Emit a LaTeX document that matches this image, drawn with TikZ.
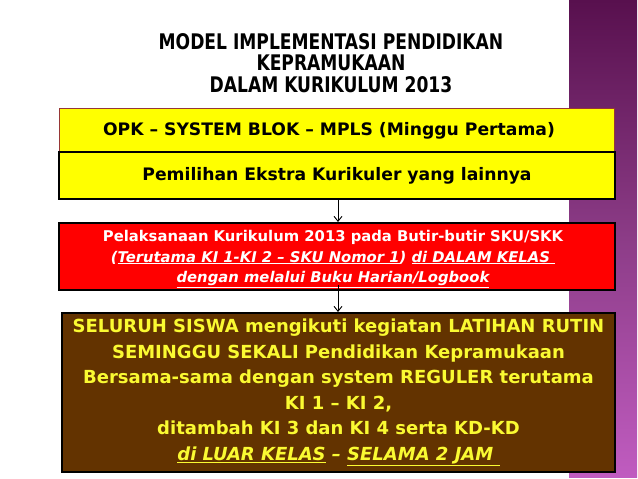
\documentclass[tikz,border=0pt]{standalone}
\usepackage{fontspec}
\setmainfont{DejaVu Sans}
\newfontfamily\titlefont[FakeStretch=0.885]{DejaVu Sans Condensed}
\usetikzlibrary{arrows.meta}
\definecolor{boxyellow}{RGB}{255,255,0}
\definecolor{boxred}{RGB}{255,0,0}
\definecolor{boxbrown}{RGB}{99,51,0}
\definecolor{txtyellow}{RGB}{250,250,50}
\definecolor{redline}{RGB}{150,55,55}
\definecolor{purpletop}{RGB}{88,16,78}
\definecolor{purplemid}{RGB}{140,60,135}
\definecolor{purplebot}{RGB}{192,92,192}
\tikzset{
  panel/.style={rectangle, inner sep=0pt, align=center, font=\bfseries},
  flow/.style={draw=black, line width=0.9pt, -{Straight Barb[length=5pt,width=8pt]}}
}
\begin{document}
\begin{tikzpicture}[x=1pt,y=-1pt]
\useasboundingbox (0,0) rectangle (638,479);
\fill[white] (0,0) rectangle (638,479);
\shade[top color=purpletop, bottom color=purplebot, middle color=purplemid] (569,0) rectangle (637,477);
% title
\node[panel, font=\titlefont\bfseries\fontsize{21.5}{21.5}\selectfont] (title) at (331,63)
  {MODEL IMPLEMENTASI PENDIDIKAN\\KEPRAMUKAAN\\DALAM KURIKULUM 2013};
% box 1
\node[panel, fill=boxyellow, draw=redline, line width=1pt, minimum width=555pt, minimum height=44pt,
  font=\bfseries\fontsize{17.2}{19}\selectfont] (b1) at (336.5,130) {};
\node[panel, font=\bfseries\fontsize{17.2}{19}\selectfont] (t1) at (329,131) {OPK -- SYSTEM BLOK -- MPLS (Minggu Pertama)};
% box 2
\node[panel, fill=boxyellow, draw=black, line width=2pt, minimum width=556pt, minimum height=47pt,
  font=\bfseries\fontsize{17.2}{19}\selectfont] (b2) at (337,175.5) {Pemilihan Ekstra Kurikuler yang lainnya};
% box 3
\node[panel, fill=boxred, draw=black, line width=2pt, minimum width=556pt, minimum height=67pt,
  font=\bfseries\fontsize{14.8}{20.5}\selectfont] (b3) at (337,256.5) {};
\node[panel, text=white, font=\bfseries\fontsize{14.8}{20.5}\selectfont] (t3) at (333,259)
  {Pelaksanaan Kurikulum 2013 pada Butir-butir SKU/SKK\\
   \itshape(\underline{Terutama KI 1-KI 2 -- SKU Nomor 1}) \underline{di DALAM KELAS\ }\\
   \itshape\underline{dengan melalui Buku Harian/Logbook}};
% box 4
\node[panel, fill=boxbrown, draw=black, line width=2pt, minimum width=553pt, minimum height=159pt, text=txtyellow,
  font=\bfseries\fontsize{18}{25.5}\selectfont] (b4) at (338.5,392.5)
  {SELURUH SISWA mengikuti kegiatan LATIHAN RUTIN\\
   SEMINGGU SEKALI Pendidikan Kepramukaan\\
   Bersama-sama dengan system REGULER terutama\\
   KI 1 -- KI 2,\\
   ditambah KI 3 dan KI 4 serta KD-KD\\
   \itshape\underline{di LUAR KELAS} -- \underline{SELAMA 2 JAM\ }};
% connectors
\draw[flow] (b2.south -| 338,0) -- (b3.north -| 338,0);
\draw[flow] ([yshift=6pt]b3.south -| 338,0) -- (b4.north -| 338,0);
\end{tikzpicture}
\end{document}
